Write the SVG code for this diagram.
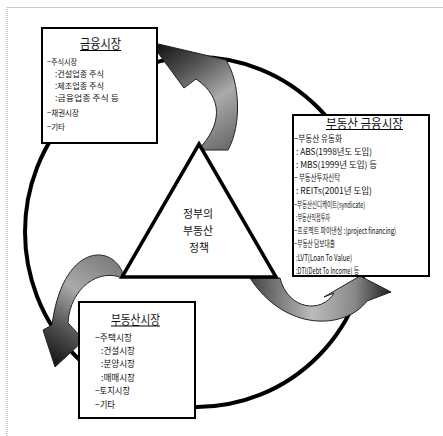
<svg xmlns="http://www.w3.org/2000/svg" width="443" height="436" viewBox="0 0 443 436">
<style>
.box{fill:#fff;stroke:#000;stroke-width:2}
.t{font-family:"Noto Sans CJK KR","Noto Sans",sans-serif;fill:#111;dominant-baseline:central}
.i{font-size:8.5px}
.s{font-size:8.8px}
.r{font-size:9px}
.h{font-size:13px}
.c{font-size:11.5px;text-anchor:middle}
.ul{stroke:#000;stroke-width:1}
.arr{stroke:#222;stroke-width:1}
</style>
<defs>
<linearGradient id="gA" gradientUnits="userSpaceOnUse" x1="160" y1="42" x2="232" y2="150">
<stop offset="0" stop-color="#111"/><stop offset="0.3" stop-color="#555"/><stop offset="0.6" stop-color="#aaa"/><stop offset="1" stop-color="#666"/>
</linearGradient>
<linearGradient id="gB" gradientUnits="userSpaceOnUse" x1="250" y1="285" x2="390" y2="290">
<stop offset="0" stop-color="#444"/><stop offset="0.45" stop-color="#bbb"/><stop offset="0.75" stop-color="#888"/><stop offset="1" stop-color="#222"/>
</linearGradient>
<linearGradient id="gC" gradientUnits="userSpaceOnUse" x1="122" y1="260" x2="52" y2="365">
<stop offset="0" stop-color="#777"/><stop offset="0.4" stop-color="#aaa"/><stop offset="0.7" stop-color="#555"/><stop offset="1" stop-color="#111"/>
</linearGradient>
</defs>
<path d="M7,436 V7.5 H443" fill="none" stroke="#999" stroke-dasharray="1,1"/>
<g id="connectors">
<ellipse cx="197" cy="232" rx="172" ry="175" fill="none" stroke="#000" stroke-width="4"/>
<path class="arr" fill="url(#gA)" d="M150,42 L226,60 C240,82 242,125 228,150 L198,150 C222,125 224,98 196,79 L184,88 Z"/>
<path class="arr" fill="url(#gB)" d="M250,278 L280,278 C288,310 322,314 334,293 L324,297 L360,276 L391,292 L367,301 C345,330 285,332 250,278 Z"/>
<path class="arr" fill="url(#gC)" d="M122,271 C108,242 62,248 52,325 L43,330 L55,367 L84,340 L68,323 C70,287 100,268 122,278 Z"/>
</g>
<g id="policy">
<polygon points="199,144 276,277 122,277" fill="#fff" stroke="#000" stroke-width="3.5"/>
<text class="t c" x="198" y="213" textLength="30" lengthAdjust="spacingAndGlyphs">정부의</text>
<text class="t c" x="198" y="230" textLength="30" lengthAdjust="spacingAndGlyphs">부동산</text>
<text class="t c" x="199" y="247" textLength="20" lengthAdjust="spacingAndGlyphs">정책</text>
</g>
<g id="financial-market">
<rect class="box" x="42" y="28" width="115" height="115"/>
<text class="t h" x="80" y="42" textLength="41" lengthAdjust="spacingAndGlyphs">금융시장</text>
<line class="ul" x1="80" y1="50.5" x2="121" y2="50.5"/>
<text class="t i" x="47" y="61" textLength="30" lengthAdjust="spacingAndGlyphs">−주식시장</text>
<text class="t i" x="55" y="73" textLength="49" lengthAdjust="spacingAndGlyphs">:건설업종 주식</text>
<text class="t i" x="55" y="85" textLength="49" lengthAdjust="spacingAndGlyphs">:제조업종 주식</text>
<text class="t i" x="55" y="97" textLength="64" lengthAdjust="spacingAndGlyphs">:금융업종 주식 등</text>
<text class="t i" x="47" y="112" textLength="32" lengthAdjust="spacingAndGlyphs">−채권시장</text>
<text class="t i" x="47" y="126" textLength="18" lengthAdjust="spacingAndGlyphs">−기타</text>
</g>
<g id="re-financial-market">
<rect class="box" x="293" y="115" width="136" height="161" stroke-width="2.5"/>
<text class="t h" x="326" y="122" textLength="77" lengthAdjust="spacingAndGlyphs">부동산 금융시장</text>
<line class="ul" x1="326" y1="129.5" x2="403" y2="129.5"/>
<text class="t s" x="294" y="138" textLength="48" lengthAdjust="spacingAndGlyphs">−부동산 유동화</text>
<text class="t s" x="296" y="151" textLength="76" lengthAdjust="spacingAndGlyphs">: ABS(1998년도 도입)</text>
<text class="t s" x="296" y="164" textLength="81" lengthAdjust="spacingAndGlyphs">: MBS(1999년 도입) 등</text>
<text class="t s" x="294" y="177" textLength="46" lengthAdjust="spacingAndGlyphs">− 부동산투자신탁</text>
<text class="t s" x="296" y="190" textLength="76" lengthAdjust="spacingAndGlyphs">: REITs(2001년 도입)</text>
<text class="t s" x="294" y="204" textLength="71" lengthAdjust="spacingAndGlyphs">−부동산신디케이트(syndicate)</text>
<text class="t s" x="296" y="217" textLength="34" lengthAdjust="spacingAndGlyphs">:부동산직접투자</text>
<text class="t s" transform="translate(294,230) scale(0.6,1)" x="0" y="0" textLength="170" lengthAdjust="spacingAndGlyphs">−프로젝트 파이낸싱 :(project financing)</text>
<text class="t s" x="294" y="243" textLength="41" lengthAdjust="spacingAndGlyphs">−부동산 담보대출</text>
<text class="t s" x="296" y="257" textLength="56" lengthAdjust="spacingAndGlyphs">:LVT(Loan To Value)</text>
<text class="t s" x="296" y="270" textLength="63" lengthAdjust="spacingAndGlyphs">:DTI(Debt To Income) 등</text>
</g>
<g id="real-estate-market">
<rect class="box" x="79" y="302" width="116" height="116"/>
<text class="t h" x="111" y="318" textLength="49" lengthAdjust="spacingAndGlyphs">부동산시장</text>
<line class="ul" x1="111" y1="326" x2="160" y2="326"/>
<text class="t r" x="95" y="337" textLength="37" lengthAdjust="spacingAndGlyphs">−주택시장</text>
<text class="t r" x="101" y="350" textLength="34" lengthAdjust="spacingAndGlyphs">:건설시장</text>
<text class="t r" x="101" y="363" textLength="34" lengthAdjust="spacingAndGlyphs">:분양시장</text>
<text class="t r" x="101" y="377" textLength="34" lengthAdjust="spacingAndGlyphs">:매매시장</text>
<text class="t r" x="95" y="390" textLength="35" lengthAdjust="spacingAndGlyphs">−토지시장</text>
<text class="t r" x="95" y="404" textLength="20" lengthAdjust="spacingAndGlyphs">−기타</text>
</g>
</svg>
